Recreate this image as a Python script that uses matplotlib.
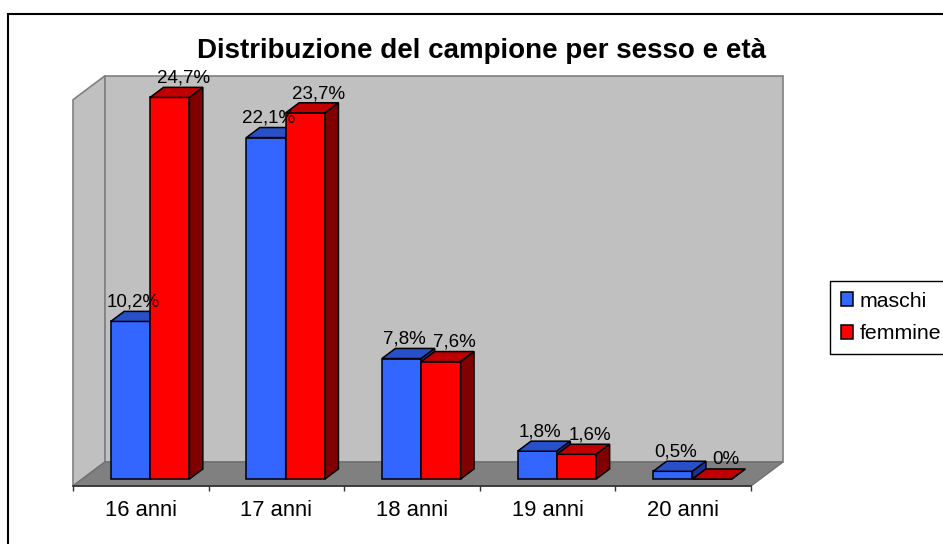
import matplotlib.pyplot as plt
from matplotlib.patches import Polygon, Rectangle, Patch

# data
categorie = ["16 anni", "17 anni", "18 anni", "19 anni", "20 anni"]
maschi = [10.2, 22.1, 7.8, 1.8, 0.5]
femmine = [24.7, 23.7, 7.6, 1.6, 0.0]
etichette_m = ["10,2%", "22,1%", "7,8%", "1,8%", "0,5%"]
etichette_f = ["24,7%", "23,7%", "7,6%", "1,6%", "0%"]
serie = ["maschi", "femmine"]
ymax = 25

plt.rcParams['font.family'] = ['Liberation Sans', 'DejaVu Sans']

W, H = 943, 544
fig = plt.figure(figsize=(W / 100, H / 100), dpi=100)
ax = fig.add_axes([0, 0, 1, 1])

# pixel layout of the 3d box
px0, px5, py0 = 73, 751, 486
sx = (px5 - px0) / len(categorie)
sy = 15.45
ax.set_xlim(-px0 / sx, (W - px0) / sx)
ax.set_ylim(-(H - py0) / sy, py0 / sy)
DX, DY = 32 / sx, 24 / sy   # depth offset in data units
n = len(categorie)


def p(x, y, d):
    return (x + d * DX, y + d * DY)


def poly(pts, fc, ec, lw=1.1, z=1):
    ax.add_patch(Polygon(pts, closed=True, facecolor=fc, edgecolor=ec,
                         linewidth=lw, zorder=z, joinstyle='miter'))


# walls and floor
poly([p(0, 0, 0), p(0, ymax, 0), p(0, ymax, 1), p(0, 0, 1)], '#c0c0c0', '#808080', 1.2)
poly([p(0, 0, 1), p(0, ymax, 1), p(n, ymax, 1), p(n, 0, 1)], '#c0c0c0', '#808080', 1.2)
poly([p(0, 0, 0), p(n, 0, 0), p(n, 0, 1), p(0, 0, 1)], '#808080', '#707070', 1.0)

# bars
w = 0.29
d0, d1 = 0.29, 0.71
colori = [('#3366ff', '#2850c8', '#1a3399'), ('#ff0000', '#c00000', '#800000')]


def barra(x0, x1, h, c):
    poly([p(x0, 0, d0), p(x1, 0, d0), p(x1, h, d0), p(x0, h, d0)], c[0], 'black', z=2)
    poly([p(x0, h, d0), p(x1, h, d0), p(x1, h, d1), p(x0, h, d1)], c[1], 'black', z=2)
    poly([p(x1, 0, d0), p(x1, 0, d1), p(x1, h, d1), p(x1, h, d0)], c[2], 'black', z=2)


for i in range(n):
    c = i + 0.5
    barra(c - w, c, maschi[i], colori[0])
    barra(c, c + w, femmine[i], colori[1])
    for x0, v, lab, dxl in [(c - w, maschi[i], etichette_m[i], -0.03),
                            (c, femmine[i], etichette_f[i], 0.05)]:
        xt, yt = p(x0 + w / 2, v, (d0 + d1) / 2)
        ax.text(xt + dxl, v + d1 * DY + 0.6, lab, ha='center', va='center',
                fontsize=13.5, color='black', zorder=5)

# x axis
for s in ['left', 'right', 'top']:
    ax.spines[s].set_visible(False)
ax.spines['bottom'].set_position(('data', 0))
ax.spines['bottom'].set_bounds(0, n)
ax.spines['bottom'].set_color('#303030')
ax.spines['bottom'].set_linewidth(1.2)
ax.set_yticks([])
ax.set_xticks(range(n + 1))
ax.set_xticklabels([])
ax.set_xticks([i + 0.5 for i in range(n)], minor=True)
ax.set_xticklabels(categorie, minor=True)
ax.tick_params(axis='x', which='major', length=3.6, width=1, color='#303030')
ax.tick_params(axis='x', which='minor', length=0, pad=10, labelsize=15.8)
ax.patch.set_visible(False)

fig.text(482 / W, 1 - 51 / H, "Distribuzione del campione per sesso e età",
         ha='center', va='center', fontsize=20, fontweight='bold')

handles = [Patch(facecolor=colori[k][0], edgecolor='black', linewidth=1.1) for k in range(2)]
ax.legend(handles, serie, loc='upper left', bbox_to_anchor=(830 / W, 1 - 281 / H),
          bbox_transform=fig.transFigure, fontsize=15.3, frameon=True, fancybox=False,
          edgecolor='black', framealpha=1, borderaxespad=0, borderpad=0.5,
          handlelength=0.6, handleheight=0.6, handletextpad=0.3, labelspacing=0.65)

# chart area border
fig.add_artist(Rectangle((8 / W, -0.1), 1.2, 1 - 14 / H + 0.1, transform=fig.transFigure,
                         fill=False, edgecolor='black', linewidth=1.5))

fig.savefig('out.png', dpi=100)
